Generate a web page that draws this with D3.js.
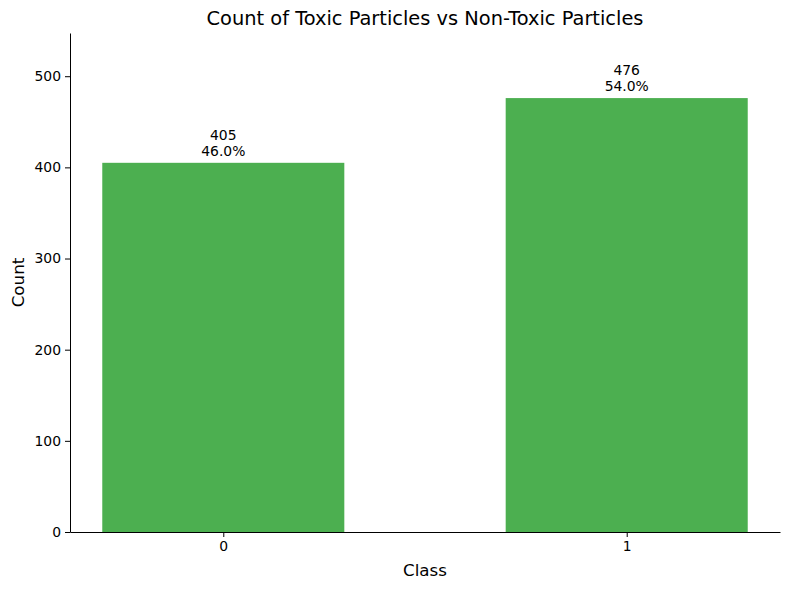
<!DOCTYPE html>
<html>
<head>
<meta charset="utf-8">
<script src="https://cdn.jsdelivr.net/npm/d3@7"></script>
<style>
  body { margin: 0; background: #fff; }
  svg { font-family: "DejaVu Sans", sans-serif; }
</style>
</head>
<body>
<svg width="790" height="590"></svg>
<script>
var classes = ["0", "1"];
var counts = [405, 476];
var yTicks = [0, 100, 200, 300, 400, 500];

var width = 790,
  height = 590;
var margin = { left: 70, right: 10, top: 33, bottom: 58 };

var svg = d3.select("svg");

var total = d3.sum(counts);
var yMax = d3.max(counts) * 1.15;

// bars are 0.6 wide, matplotlib-style 5% margins
var x = d3.scaleLinear()
  .domain([-0.38, 1.38])
  .range([margin.left, width - margin.right]);

var y = d3.scaleLinear()
  .domain([0, yMax])
  .range([height - margin.bottom, margin.top]);

var barW = 0.6;

svg.append("g")
  .selectAll("rect")
  .data(counts)
  .enter().append("rect")
  .attr("x", (d, i) => x(i - barW / 2))
  .attr("width", (d, i) => x(i + barW / 2) - x(i - barW / 2))
  .attr("y", d => y(d))
  .attr("height", d => y(0) - y(d))
  .attr("fill", "#4caf50");

// labels above bars
var labels = svg.append("g")
  .selectAll("text")
  .data(counts)
  .enter().append("text")
  .attr("text-anchor", "middle")
  .attr("font-size", "13.9px")
  .attr("fill", "#000");
labels.append("tspan")
  .attr("x", (d, i) => x(i))
  .attr("y", d => y(d) - 23)
  .text(d => d);
labels.append("tspan")
  .attr("x", (d, i) => x(i))
  .attr("y", d => y(d) - 7)
  .text(d => (d / total * 100).toFixed(1) + "%");

var xAxis = d3.axisBottom(x)
  .tickValues(classes.map((c, i) => i))
  .tickFormat((d, i) => classes[i])
  .tickSize(5)
  .tickSizeOuter(0)
  .tickPadding(4);

var yAxis = d3.axisLeft(y)
  .tickValues(yTicks)
  .tickSize(5)
  .tickSizeOuter(0)
  .tickPadding(4);

var gx = svg.append("g")
  .attr("transform", "translate(0," + y(0) + ")")
  .call(xAxis);
var gy = svg.append("g")
  .attr("transform", "translate(" + margin.left + ",0)")
  .call(yAxis);

[gx, gy].forEach(g => {
  g.selectAll("text").attr("font-size", "13.9px").attr("font-family", "DejaVu Sans, sans-serif").attr("fill", "#000");
  g.selectAll("line").attr("stroke", "#000");
  g.select(".domain").attr("stroke", "#000");
});

svg.append("text")
  .attr("x", (margin.left + width - margin.right) / 2)
  .attr("y", 25)
  .attr("text-anchor", "middle")
  .attr("font-size", "19.4px")
  .text("Count of Toxic Particles vs Non-Toxic Particles");

svg.append("text")
  .attr("x", (margin.left + width - margin.right) / 2)
  .attr("y", 576)
  .attr("text-anchor", "middle")
  .attr("font-size", "16.7px")
  .text("Class");

svg.append("text")
  .attr("transform", "translate(24," + (y(0) + y(yMax)) / 2 + ") rotate(-90)")
  .attr("text-anchor", "middle")
  .attr("font-size", "16.7px")
  .text("Count");
</script>
</body>
</html>
